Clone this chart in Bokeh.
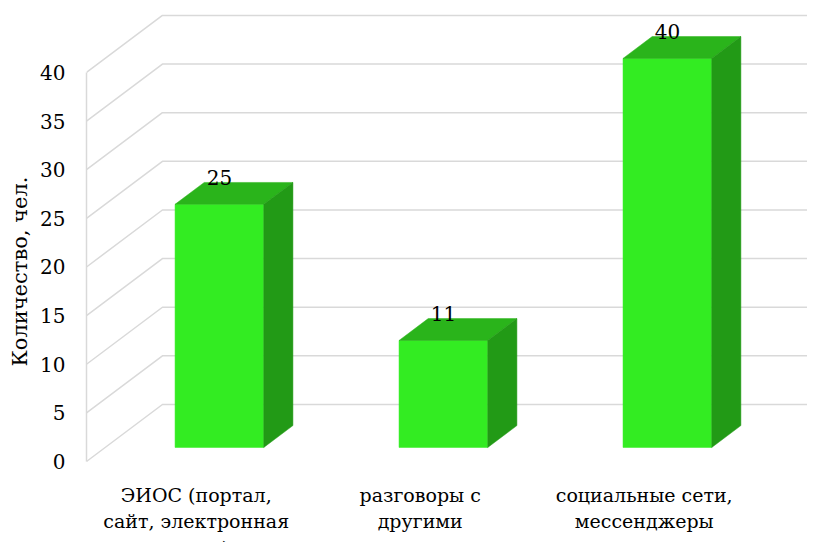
from bokeh.plotting import figure
from bokeh.models import Range1d, FixedTicker
from bokeh.core.properties import value
from bokeh.embed import file_html
from bokeh.resources import INLINE

# ---- data ----
categories = ["ЭИОС (портал,\nсайт, электронная\nпочта)",
              "разговоры с\nдругими\nстудентами",
              "социальные сети,\nмессенджеры"]
counts = [25, 11, 40]
y_ticks = [0, 5, 10, 15, 20, 25, 30, 35, 40]
y_title = "Количество, чел."

# ---- geometry (oblique 3D projection in data units) ----
FONT = "DejaVu Serif"
DX, DY = 0.339, 5.861        # full depth offset
TF, TB = 0.246, 0.63         # bar front / back depth fraction
HALF = 0.198                 # bar half width
X_END = 3.3
GRID = "#d9d9d9"
C_FRONT, C_TOP, C_SIDE = "#33ec22", "#2ab41b", "#229a16"

W, H = 807, 542
p = figure(width=W, height=H, output_backend="svg", toolbar_location=None,
           x_range=Range1d(0, 3.219), y_range=Range1d(-8.33, 47.40),
           x_axis_location=None, min_border_left=86, min_border_right=0,
           min_border_top=0, min_border_bottom=0)
p.outline_line_color = None
p.xgrid.visible = False
p.ygrid.visible = False

ax = p.yaxis[0]
ax.ticker = FixedTicker(ticks=y_ticks)
ax.bounds = (0, 40)
ax.axis_line_color = GRID
ax.axis_line_width = 1.5
ax.major_tick_line_color = None
ax.minor_tick_line_color = None
ax.major_label_standoff = 15
ax.major_label_text_font = FONT
ax.major_label_text_font_size = "20px"
ax.major_label_text_color = "black"
ax.axis_label = y_title
ax.axis_label_text_font = FONT
ax.axis_label_text_font_size = "21px"
ax.axis_label_text_font_style = "normal"
ax.axis_label_text_color = "black"
ax.axis_label_standoff = 5

# grid lines: front-left wall diagonal + back wall horizontal
gxs = [[0, DX, X_END] for t in y_ticks]
gys = [[t, t + DY, t + DY] for t in y_ticks]
p.multi_line(gxs, gys, line_color=GRID, line_width=1.5)

centers = [i + 0.51 for i in range(len(counts))]
fx, fy, tx, ty, sx, sy = [], [], [], [], [], []
for c, v in zip(centers, counts):
    l, r = c - HALF, c + HALF
    fx.append([l + TF*DX, r + TF*DX, r + TF*DX, l + TF*DX])
    fy.append([TF*DY, TF*DY, v + TF*DY, v + TF*DY])
    tx.append([l + TF*DX, r + TF*DX, r + TB*DX, l + TB*DX])
    ty.append([v + TF*DY, v + TF*DY, v + TB*DY, v + TB*DY])
    sx.append([r + TF*DX, r + TB*DX, r + TB*DX, r + TF*DX])
    sy.append([TF*DY, TB*DY, v + TB*DY, v + TF*DY])

p.patches(fx, fy, fill_color=C_FRONT, line_color=C_FRONT, line_width=0.5)
p.patches(tx, ty, fill_color=C_TOP, line_color=C_TOP, line_width=0.5)
p.patches(sx, sy, fill_color=C_SIDE, line_color=C_SIDE, line_width=0.5)

# value labels
p.text(x=[c + TF*DX for c in centers], y=[v + TB*DY + 0.5 for v in counts],
       text=[str(v) for v in counts], text_align="center", text_baseline="middle",
       text_font=value(FONT), text_font_size="20px", text_color="black")

# category labels
p.text(x=[c - 0.02 for c in centers], y=[-2.3]*len(centers), text=categories,
       text_align="center", text_baseline="top", text_line_height=1.2,
       text_font=value(FONT), text_font_size="19px", text_color="black")

open("out.html", "w").write(file_html(p, INLINE))
